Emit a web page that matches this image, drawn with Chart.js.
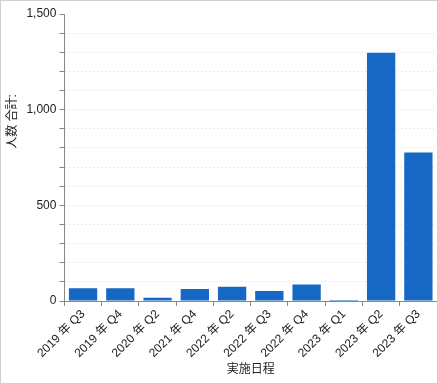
<!DOCTYPE html>
<html>
<head>
<meta charset="utf-8">
<script src="https://cdn.jsdelivr.net/npm/chart.js@4"></script>
<style>
  body { margin: 0; background: #fff; }
  #wrap { width: 438px; height: 384px; box-sizing: border-box; border: 1px solid #cfcfcf; }
</style>
</head>
<body>
<div id="wrap"><canvas id="myChart"></canvas></div>
<script>
// chart data
const categories = ["2019 年 Q3", "2019 年 Q4", "2020 年 Q2", "2021 年 Q4", "2022 年 Q2",
    "2022 年 Q3", "2022 年 Q4", "2023 年 Q1", "2023 年 Q2", "2023 年 Q3"];
const headcount = [67, 67, 17, 63, 75, 52, 86, 5, 1297, 776];
const yTickLabels = [0, 500, 1000, 1500];

const fontFamily = "'Liberation Sans', 'Noto Sans CJK JP', sans-serif";
const chart = document.getElementById("myChart");

const config = {
    type: "bar",
    data: {
        labels: categories,
        datasets: [
            {
                label: "人数 合計",
                data: headcount,
                backgroundColor: "#1668c4",
                categoryPercentage: 1,
                barPercentage: 0.76,
            },
        ],
    },
    options: {
        responsive: true,
        maintainAspectRatio: false,
        animation: false,
        layout: { padding: { top: 13, right: 0, left: 4, bottom: 6 } },
        plugins: { legend: { display: false }, tooltip: { enabled: false } },
        scales: {
            x: {
                grid: { drawOnChartArea: false, drawTicks: true, tickLength: 5, tickColor: "#888" },
                border: { color: "#888", width: 1 },
                ticks: {
                    minRotation: 45,
                    maxRotation: 45,
                    color: "#222",
                    padding: 1,
                    font: { family: fontFamily, size: 12 },
                },
                title: {
                    display: true,
                    text: "実施日程",
                    color: "#222",
                    padding: { top: 1, bottom: 0 },
                    font: { family: fontFamily, size: 12 },
                },
            },
            y: {
                min: 0,
                max: 1500,
                grid: {
                    color: (ctx) => (ctx.tick && (ctx.tick.value === 0 || ctx.tick.value === 1500) ? "rgba(0,0,0,0)" : "#dcdcdc"),
                    tickColor: "#888",
                    tickLength: 5,
                },
                border: { color: "#888", width: 1, dash: [1, 3] },
                ticks: {
                    stepSize: 100,
                    autoSkip: false,
                    color: "#222",
                    padding: 3,
                    font: { family: fontFamily, size: 12 },
                    // only the 500 steps get a label
                    callback: (value) => (yTickLabels.includes(value) ? value.toLocaleString("en-US") : ""),
                },
                title: {
                    display: true,
                    // leading ideographic spaces push the title up like in the original
                    text: "\u3000\u3000\u3000\u3000\u3000\u3000人数 合計:",
                    color: "#222",
                    padding: { top: 0, bottom: 4 },
                    font: { family: fontFamily, size: 12 },
                },
            },
        },
    },
};

new Chart(chart, config);
</script>
</body>
</html>
